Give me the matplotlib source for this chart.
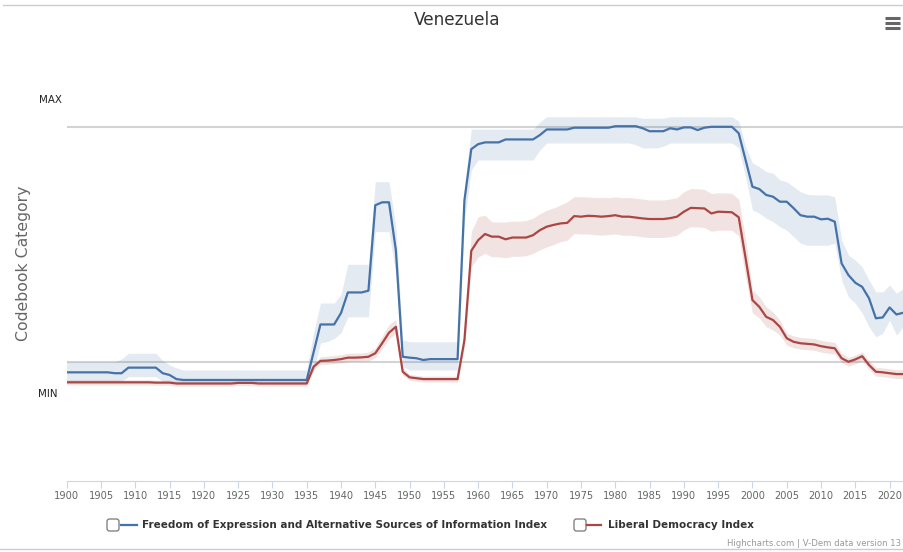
import matplotlib
matplotlib.use("Agg")
import matplotlib.pyplot as plt
from matplotlib.patches import FancyBboxPatch
from matplotlib.lines import Line2D
from matplotlib.transforms import IdentityTransform
import numpy as np

# ---- data ----
years = np.arange(1900, 2023)

# Freedom of Expression and Alternative Sources of Information Index
foe = [
    0.065, 0.065, 0.065, 0.065, 0.065, 0.065, 0.065, 0.062, 0.062, 0.081,
    0.081, 0.081, 0.081, 0.081, 0.062, 0.056, 0.042, 0.039, 0.039, 0.039,
    0.039, 0.039, 0.039, 0.039, 0.039, 0.039, 0.039, 0.039, 0.039, 0.039,
    0.039, 0.039, 0.039, 0.039, 0.039, 0.039, 0.133, 0.228, 0.228, 0.228,
    0.267, 0.337, 0.337, 0.337, 0.343, 0.634, 0.644, 0.644, 0.481, 0.118,
    0.115, 0.113, 0.107, 0.110, 0.110, 0.110, 0.110, 0.110, 0.651, 0.825,
    0.842, 0.848, 0.848, 0.848, 0.858, 0.858, 0.858, 0.858, 0.858, 0.873,
    0.892, 0.892, 0.892, 0.892, 0.898, 0.898, 0.898, 0.898, 0.898, 0.898,
    0.903, 0.903, 0.903, 0.903, 0.896, 0.886, 0.886, 0.886, 0.896, 0.892,
    0.899, 0.899, 0.890, 0.898, 0.901, 0.901, 0.901, 0.901, 0.879, 0.788,
    0.697, 0.689, 0.669, 0.663, 0.646, 0.646, 0.624, 0.600, 0.595, 0.595,
    0.586, 0.588, 0.578, 0.436, 0.396, 0.370, 0.356, 0.317, 0.249, 0.252,
    0.286, 0.262, 0.268,
]
foe_high = [
    0.101, 0.101, 0.101, 0.101, 0.101, 0.101, 0.101, 0.101, 0.110, 0.130,
    0.130, 0.130, 0.130, 0.130, 0.105, 0.090, 0.080, 0.073, 0.073, 0.073,
    0.073, 0.073, 0.073, 0.073, 0.073, 0.073, 0.073, 0.073, 0.073, 0.073,
    0.073, 0.073, 0.073, 0.073, 0.073, 0.073, 0.200, 0.301, 0.301, 0.301,
    0.330, 0.433, 0.433, 0.433, 0.433, 0.714, 0.714, 0.714, 0.560, 0.175,
    0.169, 0.169, 0.169, 0.169, 0.169, 0.169, 0.169, 0.169, 0.700, 0.893,
    0.893, 0.893, 0.893, 0.893, 0.893, 0.893, 0.893, 0.893, 0.893, 0.917,
    0.935, 0.935, 0.935, 0.935, 0.935, 0.935, 0.935, 0.935, 0.935, 0.935,
    0.935, 0.935, 0.935, 0.935, 0.930, 0.930, 0.930, 0.930, 0.935, 0.935,
    0.935, 0.935, 0.935, 0.935, 0.935, 0.935, 0.935, 0.935, 0.920, 0.833,
    0.778, 0.765, 0.748, 0.743, 0.720, 0.714, 0.697, 0.680, 0.671, 0.669,
    0.669, 0.669, 0.663, 0.515, 0.464, 0.447, 0.424, 0.379, 0.339, 0.339,
    0.362, 0.334, 0.351,
]
foe_low = [
    0.030, 0.030, 0.030, 0.030, 0.030, 0.030, 0.030, 0.030, 0.035, 0.050,
    0.050, 0.050, 0.050, 0.050, 0.035, 0.030, 0.027, 0.027, 0.027, 0.027,
    0.027, 0.027, 0.027, 0.027, 0.027, 0.027, 0.027, 0.027, 0.027, 0.027,
    0.027, 0.027, 0.027, 0.027, 0.027, 0.027, 0.070, 0.165, 0.170, 0.180,
    0.200, 0.254, 0.254, 0.254, 0.254, 0.544, 0.544, 0.544, 0.400, 0.085,
    0.073, 0.073, 0.073, 0.073, 0.073, 0.073, 0.073, 0.073, 0.580, 0.754,
    0.788, 0.788, 0.788, 0.788, 0.788, 0.788, 0.788, 0.788, 0.788, 0.822,
    0.846, 0.846, 0.846, 0.846, 0.846, 0.846, 0.846, 0.846, 0.846, 0.846,
    0.846, 0.846, 0.846, 0.840, 0.829, 0.829, 0.829, 0.835, 0.846, 0.846,
    0.846, 0.846, 0.846, 0.846, 0.846, 0.846, 0.846, 0.846, 0.830, 0.731,
    0.618, 0.607, 0.590, 0.578, 0.561, 0.549, 0.527, 0.505, 0.498, 0.498,
    0.498, 0.498, 0.505, 0.379, 0.322, 0.300, 0.267, 0.220, 0.186, 0.198,
    0.243, 0.192, 0.220,
]

# Liberal Democracy Index
libdem = [
    0.031, 0.031, 0.031, 0.031, 0.031, 0.031, 0.031, 0.031, 0.031, 0.031,
    0.031, 0.031, 0.031, 0.030, 0.030, 0.030, 0.027, 0.027, 0.027, 0.027,
    0.027, 0.027, 0.027, 0.027, 0.027, 0.029, 0.029, 0.029, 0.027, 0.027,
    0.027, 0.027, 0.027, 0.027, 0.027, 0.027, 0.084, 0.104, 0.105, 0.107,
    0.110, 0.115, 0.115, 0.116, 0.118, 0.130, 0.164, 0.200, 0.220, 0.067,
    0.048, 0.045, 0.042, 0.042, 0.042, 0.042, 0.042, 0.042, 0.175, 0.479,
    0.515, 0.536, 0.527, 0.527, 0.518, 0.524, 0.524, 0.524, 0.532, 0.549,
    0.561, 0.567, 0.572, 0.574, 0.597, 0.595, 0.598, 0.597, 0.595, 0.597,
    0.600, 0.595, 0.595, 0.592, 0.589, 0.587, 0.587, 0.587, 0.590, 0.595,
    0.612, 0.625, 0.624, 0.623, 0.606, 0.612, 0.611, 0.610, 0.593, 0.454,
    0.311, 0.288, 0.254, 0.243, 0.220, 0.181, 0.169, 0.164, 0.162, 0.160,
    0.154, 0.150, 0.147, 0.113, 0.101, 0.109, 0.120, 0.090, 0.067, 0.065,
    0.062, 0.059, 0.059,
]
libdem_high = [
    0.040, 0.040, 0.040, 0.040, 0.040, 0.040, 0.040, 0.040, 0.040, 0.040,
    0.040, 0.040, 0.040, 0.038, 0.038, 0.038, 0.036, 0.036, 0.036, 0.036,
    0.036, 0.036, 0.036, 0.036, 0.036, 0.038, 0.038, 0.038, 0.036, 0.036,
    0.036, 0.036, 0.036, 0.036, 0.036, 0.036, 0.095, 0.118, 0.120, 0.122,
    0.125, 0.130, 0.130, 0.131, 0.134, 0.148, 0.188, 0.228, 0.245, 0.080,
    0.058, 0.055, 0.052, 0.052, 0.052, 0.052, 0.052, 0.052, 0.200, 0.544,
    0.595, 0.600, 0.577, 0.577, 0.577, 0.580, 0.580, 0.582, 0.590, 0.605,
    0.617, 0.625, 0.635, 0.646, 0.663, 0.663, 0.662, 0.660, 0.660, 0.660,
    0.662, 0.660, 0.660, 0.658, 0.655, 0.652, 0.652, 0.652, 0.655, 0.660,
    0.680, 0.691, 0.690, 0.688, 0.674, 0.676, 0.676, 0.674, 0.655, 0.520,
    0.345, 0.322, 0.288, 0.271, 0.243, 0.198, 0.189, 0.184, 0.182, 0.180,
    0.174, 0.170, 0.167, 0.130, 0.116, 0.124, 0.135, 0.105, 0.082, 0.080,
    0.077, 0.074, 0.074,
]
libdem_low = [
    0.022, 0.022, 0.022, 0.022, 0.022, 0.022, 0.022, 0.022, 0.022, 0.022,
    0.022, 0.022, 0.022, 0.021, 0.021, 0.021, 0.018, 0.018, 0.018, 0.018,
    0.018, 0.018, 0.018, 0.018, 0.018, 0.020, 0.020, 0.020, 0.018, 0.018,
    0.018, 0.018, 0.018, 0.018, 0.018, 0.018, 0.073, 0.092, 0.093, 0.095,
    0.097, 0.102, 0.102, 0.103, 0.104, 0.115, 0.145, 0.178, 0.198, 0.055,
    0.038, 0.035, 0.032, 0.032, 0.032, 0.032, 0.032, 0.032, 0.150, 0.424,
    0.458, 0.470, 0.458, 0.458, 0.455, 0.460, 0.460, 0.462, 0.470, 0.482,
    0.492, 0.500, 0.510, 0.515, 0.538, 0.536, 0.536, 0.534, 0.532, 0.534,
    0.536, 0.532, 0.532, 0.530, 0.526, 0.524, 0.524, 0.524, 0.527, 0.532,
    0.550, 0.561, 0.560, 0.558, 0.545, 0.549, 0.549, 0.548, 0.530, 0.390,
    0.267, 0.250, 0.220, 0.209, 0.192, 0.158, 0.149, 0.144, 0.142, 0.140,
    0.134, 0.130, 0.127, 0.098, 0.086, 0.094, 0.105, 0.075, 0.052, 0.050,
    0.047, 0.044, 0.044,
]

series_names = ["Freedom of Expression and Alternative Sources of Information Index",
                "Liberal Democracy Index"]
colors = ["#4572A7", "#AA4643"]
x_ticks = list(range(1900, 2021, 5))

# ---- figure ----
W, H = 904, 552
fig = plt.figure(figsize=(W / 100, H / 100), dpi=100)
px = IdentityTransform()


def fy(y):
    return H - y


ax = fig.add_axes([66.7 / W, (H - 481) / H, (904 - 66.7) / W, (481 - 39) / H])

ax.fill_between(years, foe_low, foe_high, color=colors[0], alpha=0.15, lw=0)
ax.plot(years, foe, color=colors[0], lw=1.6)
ax.fill_between(years, libdem_low, libdem_high, color=colors[1], alpha=0.15, lw=0)
ax.plot(years, libdem, color=colors[1], lw=1.6)

ax.axhline(0.9, color="#d3d3d3", lw=1.5, zorder=0)
ax.axhline(0.1, color="#d3d3d3", lw=1.5, zorder=0)

ax.set_xlim(1900, 2022.1)
ax.set_ylim(-0.305, 1.2)
ax.set_xticks(x_ticks)
ax.set_yticks([])
for side in ["top", "right", "left"]:
    ax.spines[side].set_visible(False)
ax.spines["bottom"].set_color("#ccd6eb")
ax.tick_params(axis="x", length=5, color="#ccd6eb", labelsize=7.1,
               labelcolor="#666666", pad=2)

# axis labels / title
fig.text(457 / W, 1 - 20 / H, "Venezuela", ha="center", va="center",
         fontsize=12.2, color="#333333")
fig.text(50 / W, 1 - 100 / H, "MAX", ha="center", va="center",
         fontsize=7.4, color="#222222")
fig.text(48 / W, 1 - 394 / H, "MIN", ha="center", va="center",
         fontsize=7.4, color="#222222")
fig.text(24 / W, 1 - 263 / H, "Codebook Category", ha="center", va="center",
         rotation=90, fontsize=11.3, color="#666666")

# frame lines top and bottom
fig.add_artist(Line2D([3, W], [fy(5), fy(5)], transform=px, color="#cccccc", lw=1))
fig.add_artist(Line2D([0, W], [fy(549), fy(549)], transform=px, color="#cccccc", lw=1))

# menu icon
for yy in [18, 23, 28]:
    fig.add_artist(Line2D([885, 900], [fy(yy), fy(yy)], transform=px,
                          color="#666666", lw=2.2, solid_capstyle="butt"))

# legend
legend_items = [(107, 121, 137, 142), (574, 587, 601, 608)]
for (bx, lx0, lx1, tx), name, c in zip(legend_items, series_names, colors):
    fig.add_artist(FancyBboxPatch((bx, fy(531)), 12, 12, transform=px,
                                  boxstyle="round,pad=0,rounding_size=2.5",
                                  fc="white", ec="#777777", lw=0.9))
    fig.add_artist(Line2D([lx0, lx1], [fy(525), fy(525)], transform=px,
                          color=c, lw=1.6))
    fig.text(tx / W, 1 - 525 / H, name, ha="left", va="center",
             fontsize=7.5, fontweight="bold", color="#333333")

# credits
fig.text(901 / W, 1 - 543 / H, "Highcharts.com | V-Dem data version 13",
         ha="right", va="center", fontsize=6.1, color="#999999")

fig.savefig("out.png", dpi=100)
